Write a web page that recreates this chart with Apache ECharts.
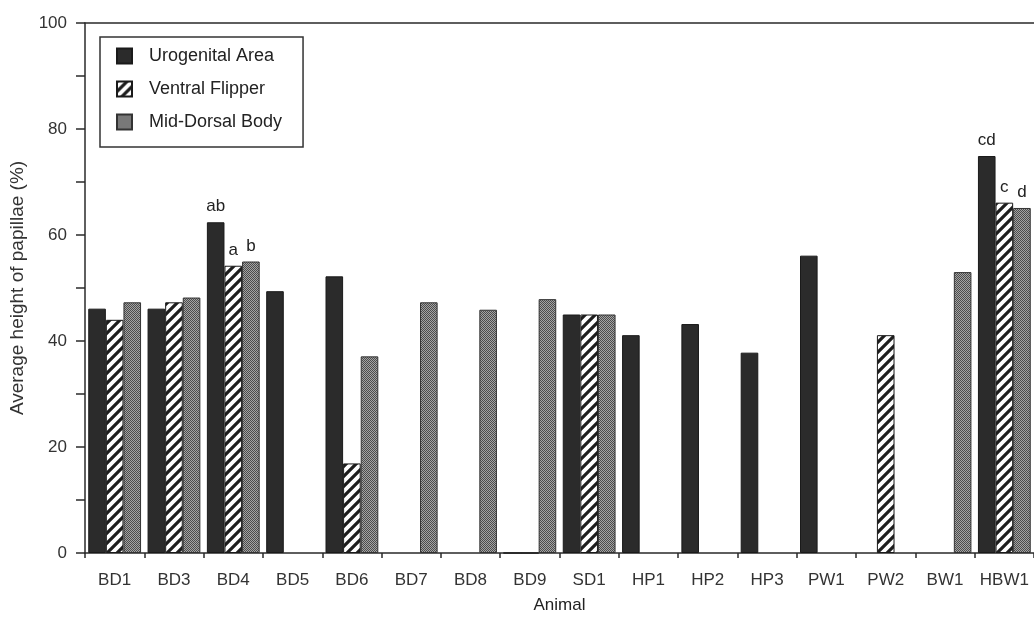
<!DOCTYPE html>
<html>
<head>
<meta charset="utf-8">
<script src="https://cdn.jsdelivr.net/npm/echarts@6/dist/echarts.min.js"></script>
<style>
html,body{margin:0;padding:0;background:#fff;}
#chart{width:1034px;height:619px;}
</style>
</head>
<body>
<div id="chart"></div>
<script>
// ---- data ----
const animals = ['BD1','BD3','BD4','BD5','BD6','BD7','BD8','BD9','SD1','HP1','HP2','HP3','PW1','PW2','BW1','HBW1'];
const seriesNames = ['Urogenital Area','Ventral Flipper','Mid-Dorsal Body'];
const urogenital = [46.1, 46.1, 62.4, 49.4, 52.2, null, null, 0, 45.0, 41.1, 43.2, 37.8, 56.1, null, null, 74.9];
const ventral    = [44.0, 47.3, 54.2, null, 16.9, null, null, 0, 45.0, null, null, null, null, 41.1, null, 66.1];
const dorsal     = [47.3, 48.2, 55.0, null, 37.1, 47.3, 45.9, 47.9, 45.0, null, null, null, null, null, 53.0, 65.1];
const uroNotes     = ['', '', 'ab', '', '', '', '', '', '', '', '', '', '', '', '', 'cd'];
const ventralNotes = ['', '', 'a',  '', '', '', '', '', '', '', '', '', '', '', '', 'c'];
const dorsalNotes  = ['', '', 'b',  '', '', '', '', '', '', '', '', '', '', '', '', 'd'];
const yTicks = [0, 20, 40, 60, 80, 100];

// ---- patterns ----
function hatchPattern(){
  const c = document.createElement('canvas');
  c.width = 10; c.height = 10;
  const g = c.getContext('2d');
  g.fillStyle = '#ffffff'; g.fillRect(0,0,10,10);
  g.strokeStyle = '#1e1e1e'; g.lineWidth = 3.2;
  g.beginPath();
  g.moveTo(-2,12); g.lineTo(12,-2);
  g.moveTo(-7,7); g.lineTo(7,-7);
  g.moveTo(3,17); g.lineTo(17,3);
  g.stroke();
  return c;
}
function dotPattern(){
  const c = document.createElement('canvas');
  c.width = 2; c.height = 2;
  const g = c.getContext('2d');
  g.fillStyle = '#a4a4a4'; g.fillRect(0,0,2,2);
  g.fillStyle = '#4c4c4c'; g.fillRect(0,0,1,1); g.fillRect(1,1,1,1);
  return c;
}
const hatch = {image: hatchPattern(), repeat: 'repeat'};
const dots = {image: dotPattern(), repeat: 'repeat'};

const FONT = 'Liberation Sans, Arial, sans-serif';
const AX = '#2a2a2a';

function build(vals, notes){
  return vals.map((v,i) => ({
    value: v,
    label: notes[i] ? {show: true, formatter: notes[i]} : {show: false}
  }));
}
const barCommon = {
  type: 'bar',
  barGap: '0%',
  barCategoryGap: '11%',
  label: {show:false, position:'top', distance: 7, color:'#222', fontSize: 17, fontFamily: FONT},
  emphasis: {disabled: true}
};

const chart = echarts.init(document.getElementById('chart'), null, {renderer:'canvas'});
chart.setOption({
  animation: false,
  backgroundColor: '#ffffff',
  textStyle: {fontFamily: FONT},
  grid: {left: 85, right: 0, top: 23, bottom: 63},
  legend: {
    orient: 'vertical',
    left: 100, top: 37,
    padding: [10, 21, 16, 16],
    borderColor: '#333', borderWidth: 1.5,
    icon: 'rect',
    itemWidth: 15, itemHeight: 15, itemGap: 15,
    selectedMode: false,
    textStyle: {fontSize: 18, color: '#222', fontFamily: FONT, padding: [0,0,0,12], lineHeight: 18},
    data: seriesNames
  },
  xAxis: [{
    type: 'category',
    data: animals,
    name: 'Animal',
    nameLocation: 'middle',
    nameGap: 44,
    nameTextStyle: {fontSize: 17, color: '#222', fontFamily: FONT},
    axisLine: {lineStyle: {color: AX, width: 1.5}},
    axisTick: {show: true, interval: 0, length: 5, lineStyle: {color: AX, width: 1.5}},
    axisLabel: {interval: 0, margin: 19, fontSize: 17, color: '#333', fontFamily: FONT},
    splitLine: {show: false}
  },{
    type: 'category',
    data: animals,
    position: 'top',
    axisLine: {show: true, lineStyle: {color: AX, width: 1.5}},
    axisTick: {show: false},
    axisLabel: {show: false},
    splitLine: {show: false}
  }],
  yAxis: {
    type: 'value',
    min: 0, max: 100, interval: 10,
    name: 'Average height of papillae (%)',
    nameLocation: 'middle',
    nameGap: 46,
    nameTextStyle: {fontSize: 19, color: '#333', fontFamily: FONT},
    axisLine: {show: true, lineStyle: {color: AX, width: 1.5}},
    axisTick: {show: true, length: 9, lineStyle: {color: AX, width: 1.5}},
    axisLabel: {
      margin: 18, fontSize: 17, color: '#333', fontFamily: FONT,
      formatter: v => yTicks.includes(v) ? String(v) : ''
    },
    splitLine: {show: false}
  },
  series: [
    Object.assign({}, barCommon, {
      name: seriesNames[0],
      data: build(urogenital, uroNotes),
      itemStyle: {color: '#2b2b2b', borderColor: '#1a1a1a', borderWidth: 1}
    }),
    Object.assign({}, barCommon, {
      name: seriesNames[1],
      data: build(ventral, ventralNotes),
      itemStyle: {color: hatch, borderColor: '#1a1a1a', borderWidth: 1}
    }),
    Object.assign({}, barCommon, {
      name: seriesNames[2],
      data: build(dorsal, dorsalNotes),
      itemStyle: {color: dots, borderColor: '#333', borderWidth: 1}
    })
  ]
});
</script>
</body>
</html>
